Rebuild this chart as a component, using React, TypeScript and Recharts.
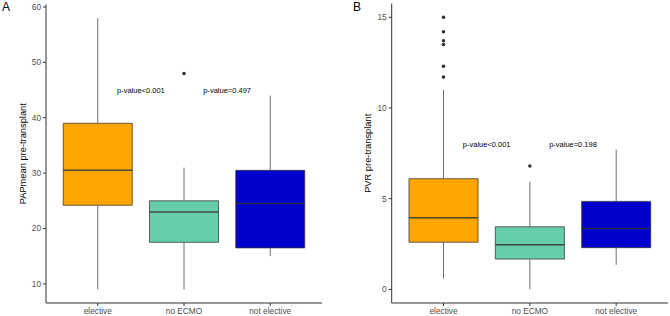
import { ComposedChart, XAxis, YAxis, Scatter, ReferenceArea, ReferenceLine, ReferenceDot } from 'recharts';

const categories = ['elective', 'no ECMO', 'not elective'];
const boxColors = ['#FFA500', '#66CDAA', '#0000CD'];

// PAPmean pre-transplant: whisker ends, quartiles, medians
const papLow = [9, 9, 15];
const papQ1 = [24.2, 17.5, 16.5];
const papMedian = [30.5, 23, 24.5];
const papQ3 = [39, 25, 30.5];
const papHigh = [58, 31, 44];
const papOutliers = [{ pos: 2, value: 48 }];
const papTicks = [10, 20, 30, 40, 50, 60];
const papPValues = ['p-value<0.001', 'p-value=0.497'];
const papPValueY = 45;

// PVR pre-transplant
const pvrLow = [0.6, 0, 1.35];
const pvrQ1 = [2.6, 1.67, 2.3];
const pvrMedian = [3.95, 2.46, 3.35];
const pvrQ3 = [6.1, 3.45, 4.85];
const pvrHigh = [11, 5.92, 7.7];
const pvrOutliers = [
  { pos: 1, value: 15 },
  { pos: 1, value: 14.2 },
  { pos: 1, value: 13.7 },
  { pos: 1, value: 13.5 },
  { pos: 1, value: 12.3 },
  { pos: 1, value: 11.7 },
  { pos: 2, value: 6.8 },
];
const pvrTicks = [0, 5, 10, 15];
const pvrPValues = ['p-value<0.001', 'p-value=0.198'];
const pvrPValueY = 8;

const FONT = '"Liberation Sans", Arial, Helvetica, sans-serif';
const HALF_BOX = 0.4;

const OutlierDot = (props: any) => <circle cx={props.cx} cy={props.cy} r={1.8} fill="#333" />;

const BoxPanel = ({ letter, title, low, q1, median, q3, high, outliers, ticks, domain, pValues, pValueY, margin, yWidth }: any) => {
  return (
    <div style={{ position: 'relative', width: 335, height: 316 }}>
      <div style={{ position: 'absolute', left: letter === 'A' ? 2 : 18, top: 0, fontSize: 12, fontFamily: FONT, color: '#000' }}>
        {letter}
      </div>
      <ComposedChart width={335} height={316} margin={margin}>
        <XAxis
          type="number"
          dataKey="pos"
          domain={[0.4, 3.6]}
          ticks={[1, 2, 3]}
          tickFormatter={(v: number) => categories[v - 1]}
          allowDataOverflow
          height={13}
          tickSize={3}
          tickMargin={2}
          stroke="#333"
          tick={{ fontSize: 8.3, fill: '#4d4d4d', fontFamily: FONT }}
        />
        <YAxis
          type="number"
          dataKey="value"
          domain={domain}
          ticks={ticks}
          allowDataOverflow
          width={yWidth}
          tickSize={3}
          tickMargin={2}
          stroke="#333"
          tick={{ fontSize: 8.3, fill: '#4d4d4d', fontFamily: FONT }}
          label={{ value: title, angle: -90, position: 'center', fontSize: 9.3, fill: '#000', fontFamily: FONT }}
        />
        {categories.map((c, i) => (
          <ReferenceLine
            key={`lo-${c}`}
            segment={[{ x: i + 1, y: low[i] }, { x: i + 1, y: q1[i] }]}
            stroke="#6f6f6f"
            strokeWidth={1}
          />
        ))}
        {categories.map((c, i) => (
          <ReferenceLine
            key={`hi-${c}`}
            segment={[{ x: i + 1, y: q3[i] }, { x: i + 1, y: high[i] }]}
            stroke="#6f6f6f"
            strokeWidth={1}
          />
        ))}
        {categories.map((c, i) => (
          <ReferenceArea
            key={`box-${c}`}
            x1={i + 1 - HALF_BOX}
            x2={i + 1 + HALF_BOX}
            y1={q1[i]}
            y2={q3[i]}
            fill={boxColors[i]}
            fillOpacity={1}
            stroke="#333"
            strokeOpacity={0.75}
            strokeWidth={1}
          />
        ))}
        {categories.map((c, i) => (
          <ReferenceLine
            key={`med-${c}`}
            segment={[{ x: i + 1 - HALF_BOX, y: median[i] }, { x: i + 1 + HALF_BOX, y: median[i] }]}
            stroke="#333"
            strokeOpacity={0.85}
            strokeWidth={1.5}
          />
        ))}
        {pValues.map((p: string, i: number) => (
          <ReferenceDot
            key={p + i}
            x={i + 1.5}
            y={pValueY}
            r={1}
            fill="none"
            stroke="none"
            label={{ value: p, position: 'center', fontSize: 7.5, fill: '#000', fontFamily: FONT }}
          />
        ))}
        <Scatter data={outliers} dataKey="value" shape={OutlierDot} isAnimationActive={false} />
      </ComposedChart>
    </div>
  );
};

export default function App() {
  return (
    <div style={{ position: 'absolute', left: 0, top: 0, width: 670, height: 316, display: 'flex', background: '#fff' }}>
      <BoxPanel
        letter="A"
        title="PAPmean pre-transplant"
        low={papLow}
        q1={papQ1}
        median={papMedian}
        q3={papQ3}
        high={papHigh}
        outliers={papOutliers}
        ticks={papTicks}
        domain={[6.55, 60.45]}
        pValues={papPValues}
        pValueY={papPValueY}
        margin={{ top: 4.5, right: 13, bottom: 0, left: 0 }}
        yWidth={46}
      />
      <BoxPanel
        letter="B"
        title="PVR pre-transplant"
        low={pvrLow}
        q1={pvrQ1}
        median={pvrMedian}
        q3={pvrQ3}
        high={pvrHigh}
        outliers={pvrOutliers}
        ticks={pvrTicks}
        domain={[-0.75, 15.75]}
        pValues={pvrPValues}
        pValueY={pvrPValueY}
        margin={{ top: 3.6, right: 2, bottom: 0, left: 9.3 }}
        yWidth={47.4}
      />
    </div>
  );
}
